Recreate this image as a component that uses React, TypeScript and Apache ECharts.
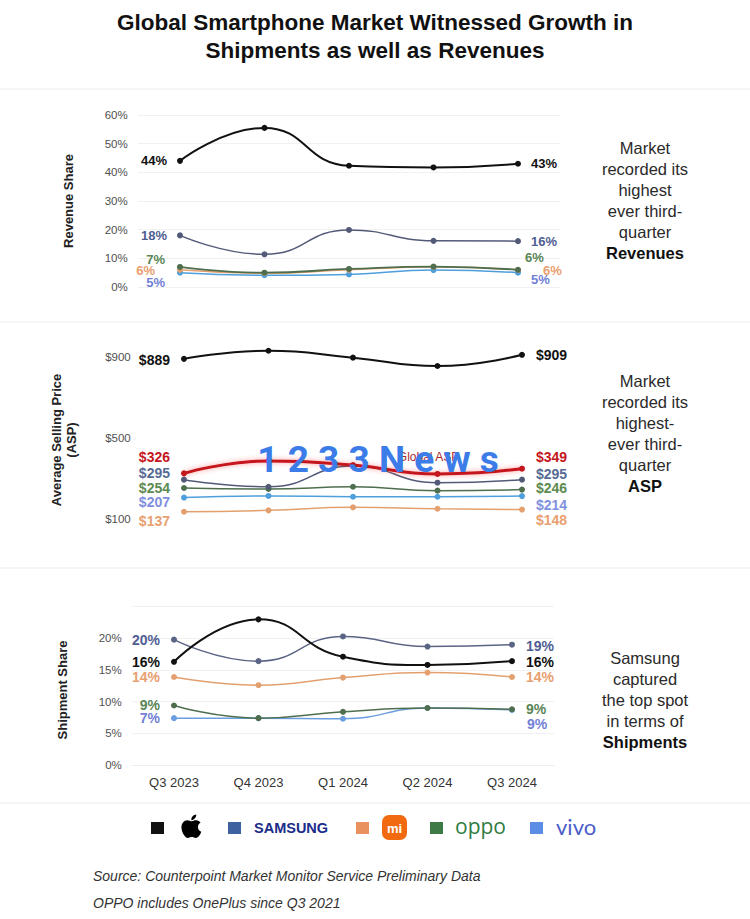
import React, { useEffect, useRef } from 'react';
import * as echarts from 'echarts';

const categories = ['Q3 2023', 'Q4 2023', 'Q1 2024', 'Q2 2024', 'Q3 2024'];

// Revenue share (%)
const revApple = [44, 55.5, 42.3, 41.7, 43];
const revSamsung = [18, 11.4, 19.9, 16.1, 16];
const revXiaomi = [6, 4.8, 6.0, 7.0, 6];
const revOppo = [7, 5.0, 6.3, 7.1, 6];
const revVivo = [5, 4.1, 4.4, 5.9, 5];

// Average selling price (USD)
const aspApple = [889, 929, 895, 854, 909];
const aspGlobal = [326, 387, 367, 323, 349];
const aspSamsung = [295, 260, 362, 280, 295];
const aspOppo = [254, 249, 260, 241, 246];
const aspVivo = [207, 215, 211, 211, 214];
const aspXiaomi = [137, 144, 159, 152, 148];

// Shipment share (%)
const shipApple = [16.3, 23.0, 17.1, 15.8, 16.4];
const shipSamsung = [19.8, 16.4, 20.3, 18.7, 19.0];
const shipXiaomi = [13.9, 12.6, 13.8, 14.6, 13.9];
const shipOppo = [9.4, 7.4, 8.4, 9.0, 8.8];
const shipVivo = [7.4, 7.4, 7.3, 9.0, 8.7];

const revTicks = [0, 10, 20, 30, 40, 50, 60];
const aspTicks = [100, 500, 900];
const shipTicks = [0, 5, 10, 15, 20];

const FONT = '"Liberation Sans", Arial, sans-serif';

const APPLE_PATH =
  'M150.37 130.25c-2.45 5.66-5.35 10.87-8.71 15.66-4.58 6.53-8.33 11.05-11.22 13.56-4.48 4.12-9.28 6.23-14.42 6.35-3.69 0-8.14-1.05-13.32-3.18-5.197-2.12-9.973-3.17-14.34-3.17-4.58 0-9.492 1.05-14.746 3.170-5.262 2.13-9.501 3.24-12.742 3.35-4.929 0.21-9.842-1.96-14.746-6.52-3.13-2.73-7.045-7.41-11.735-14.04-5.032-7.08-9.169-15.29-12.41-24.650-3.471-10.11-5.211-19.9-5.211-29.378 0-10.857 2.346-20.221 7.045-28.068 3.693-6.303 8.606-11.275 14.755-14.925s12.793-5.51 19.948-5.629c3.915 0 9.049 1.211 15.429 3.591 6.362 2.388 10.447 3.599 12.238 3.599 1.339 0 5.877-1.416 13.57-4.239 7.275-2.618 13.415-3.702 18.445-3.275 13.63 1.1 23.87 6.473 30.68 16.153-12.19 7.386-18.22 17.731-18.1 31.002 0.11 10.337 3.86 18.939 11.23 25.769 3.34 3.17 7.070 5.62 11.22 7.36-0.9 2.61-1.85 5.11-2.86 7.51zM119.11 7.24c0 8.102-2.96 15.667-8.86 22.669-7.12 8.324-15.732 13.134-25.071 12.375l-0.188-3.07c0-7.778 3.386-16.102 9.399-22.908 3.002-3.446 6.82-6.311 11.45-8.597 4.62-2.252 8.99-3.497 13.1-3.71 0.12 1.083 0.17 2.166 0.17 3.24z';

type End = { d: number; dy: number };

function mk(
  grid: number,
  name: string,
  values: number[],
  lineColor: string,
  labelColor: string,
  width: number,
  fmt: (v: number) => string,
  left: End,
  right: End,
  fontSize: number,
  z: number,
  extra: any = {},
  midLabel: any = null
) {
  const last = values.length - 1;
  const data = values.map((v, i) => {
    const base: any = { value: v };
    if (i === 0 || i === last) {
      const e = i === 0 ? left : right;
      base.label = {
        show: true,
        position: i === 0 ? 'left' : 'right',
        distance: e.d,
        offset: [0, e.dy],
        formatter: fmt(v),
        color: labelColor,
        fontSize,
        lineHeight: 10,
        fontWeight: 'bold',
        fontFamily: FONT,
      };
    } else if (midLabel && midLabel.index === i) {
      base.label = midLabel.label;
    }
    return base;
  });
  return {
    type: 'line',
    name,
    xAxisIndex: grid,
    yAxisIndex: grid,
    data,
    smooth: 0.5,
    symbol: 'circle',
    symbolSize: 6,
    z,
    lineStyle: { color: lineColor, width },
    itemStyle: { color: lineColor },
    label: { show: false },
    emphasis: { disabled: true },
    ...extra,
  };
}

const pct = (v: number) => Math.round(v) + '%';
const usd = (v: number) => '$' + v;

export default function App() {
  const ref = useRef<HTMLDivElement>(null);
  useEffect(() => {
    document.body.style.margin = '0';
    echarts.graphic.registerShape('appleLogo', echarts.graphic.extendPath(APPLE_PATH, {}) as any);
    const chart = echarts.init(ref.current as HTMLDivElement, null, { renderer: 'svg' });

    const yLabel = { color: '#505050', fontSize: 11.5, fontFamily: FONT, margin: 10 };
    const faint = { show: true, lineStyle: { color: '#f1f1f1', width: 1 } };

    const grids = [
      { left: 137.75, width: 422.5, top: 115, height: 172 },
      { left: 141.75, width: 422.5, top: 336.3, height: 183 },
      { left: 131.75, width: 422.5, top: 606.7, height: 158.3 },
    ];

    const xAxes = [0, 1, 2].map((g) => ({
      type: 'category',
      gridIndex: g,
      data: categories,
      boundaryGap: true,
      show: g === 2,
      axisTick: { show: false },
      axisLine: { show: true, lineStyle: { color: '#eeeeee' } },
      axisLabel: { color: '#333', fontSize: 13, fontFamily: FONT, margin: 11 },
    }));

    const yAxes = [
      {
        type: 'value',
        gridIndex: 0,
        min: 0,
        max: 60,
        interval: 10,
        axisLabel: { ...yLabel, formatter: (v: number) => (revTicks.includes(v) ? v + '%' : '') },
        splitLine: faint,
        axisLine: { show: false },
        axisTick: { show: false },
      },
      {
        type: 'value',
        gridIndex: 1,
        min: 100,
        max: 1000,
        interval: 100,
        axisLabel: { ...yLabel, margin: 11, formatter: (v: number) => (aspTicks.includes(v) ? '$' + v : '') },
        splitLine: { show: false },
        axisLine: { show: false },
        axisTick: { show: false },
      },
      {
        type: 'value',
        gridIndex: 2,
        min: 0,
        max: 25,
        interval: 5,
        axisLabel: { ...yLabel, formatter: (v: number) => (shipTicks.includes(v) ? v + '%' : '') },
        splitLine: faint,
        axisLine: { show: false },
        axisTick: { show: false },
      },
    ];

    const C = {
      apple: '#111111',
      samsungLine: '#525a78',
      samsungLbl: '#4f5d92',
      xiaomiLine: '#e3a06e',
      xiaomiLbl: '#e8a070',
      oppoLine: '#4e6e4e',
      oppoLbl: '#5a8556',
      vivoLine: '#4f9fdc',
      vivoLbl: '#7281d6',
      red: '#c4161c',
    };

    const series: any[] = [
      // Revenue share
      mk(0, 'vivo', revVivo, C.vivoLine, C.vivoLbl, 1.5, pct, { d: 12, dy: 10 }, { d: 10, dy: 7 }, 13, 2),
      mk(0, 'Xiaomi', revXiaomi, C.xiaomiLine, C.xiaomiLbl, 1.5, pct, { d: 22, dy: 1 }, { d: 22, dy: 1 }, 13, 3),
      mk(0, 'OPPO', revOppo, C.oppoLine, C.oppoLbl, 1.8, pct, { d: 12, dy: -7 }, { d: 4, dy: -12 }, 13, 4),
      mk(0, 'Samsung', revSamsung, C.samsungLine, C.samsungLbl, 1.5, pct, { d: 10, dy: 0 }, { d: 10, dy: 0 }, 13, 5),
      mk(0, 'Apple', revApple, C.apple, C.apple, 2, pct, { d: 10, dy: 0 }, { d: 10, dy: 0 }, 13, 6),
      // ASP
      mk(1, 'Xiaomi', aspXiaomi, C.xiaomiLine, C.xiaomiLbl, 1.5, usd, { d: 11, dy: 9 }, { d: 11, dy: 10 }, 14, 2),
      mk(1, 'vivo', aspVivo, C.vivoLine, '#8090e0', 1.5, usd, { d: 11, dy: 4 }, { d: 11, dy: 9 }, 14, 3),
      mk(1, 'OPPO', aspOppo, C.oppoLine, '#5c8a4f', 1.5, usd, { d: 11, dy: 0 }, { d: 11, dy: -2 }, 14, 4),
      mk(1, 'Samsung', aspSamsung, C.samsungLine, '#566a94', 1.5, usd, { d: 11, dy: -7 }, { d: 11, dy: -6 }, 14, 5),
      mk(
        1,
        'Global ASP',
        aspGlobal,
        C.red,
        C.red,
        3,
        usd,
        { d: 11, dy: -16 },
        { d: 11, dy: -12 },
        14,
        6,
        { lineStyle: { color: C.red, width: 3, shadowColor: 'rgba(255,60,60,0.55)', shadowBlur: 5 } },
        {
          index: 3,
          label: {
            show: true,
            position: 'top',
            distance: 5,
            offset: [-9, -3],
            formatter: 'Global ASP',
            color: '#a8262a',
            fontSize: 12,
            fontFamily: FONT,
          },
        }
      ),
      mk(1, 'Apple', aspApple, C.apple, C.apple, 2, usd, { d: 11, dy: 1 }, { d: 11, dy: 0 }, 14, 7),
      // Shipment share
      mk(2, 'vivo', shipVivo, '#6a9ee0', C.vivoLbl, 1.5, pct, { d: 11, dy: 0 }, { d: 12, dy: 14 }, 14, 2),
      mk(2, 'OPPO', shipOppo, C.oppoLine, C.oppoLbl, 1.5, pct, { d: 11, dy: 0 }, { d: 11, dy: 0 }, 14, 3),
      mk(2, 'Xiaomi', shipXiaomi, C.xiaomiLine, C.xiaomiLbl, 1.5, pct, { d: 11, dy: 0 }, { d: 11, dy: 0 }, 14, 4),
      mk(2, 'Samsung', shipSamsung, '#5a6585', C.samsungLbl, 1.5, pct, { d: 11, dy: 0 }, { d: 11, dy: 1 }, 14, 5),
      mk(2, 'Apple', shipApple, C.apple, C.apple, 2, pct, { d: 11, dy: 0 }, { d: 11, dy: 1 }, 14, 6),
    ];

    const sideText = (y: number, text: string) => ({
      type: 'text',
      x: 645,
      y,
      style: {
        text,
        fill: '#2a2a2a',
        fontSize: 16.5,
        fontFamily: FONT,
        align: 'center',
        verticalAlign: 'top',
        lineHeight: 21,
        rich: { b: { fontWeight: 'bold', fontSize: 16.5, fontFamily: FONT, lineHeight: 21, fill: '#111' } },
      },
    });

    const vText = (x: number, y: number, text: string) => ({
      type: 'text',
      x,
      y,
      rotation: Math.PI / 2,
      style: {
        text,
        fill: '#222',
        fontSize: 13,
        fontWeight: 'bold',
        fontFamily: FONT,
        align: 'center',
        verticalAlign: 'middle',
        lineHeight: 15,
      },
    });

    const sep = (y: number) => ({
      type: 'line',
      shape: { x1: 0, y1: y, x2: 750, y2: y },
      style: { stroke: '#ebebeb', lineWidth: 1 },
    });

    const sq = (x: number, color: string) => ({
      type: 'rect',
      shape: { x, y: 822, width: 13, height: 12 },
      style: { fill: color },
    });

    const titleStyle = {
      fill: '#111',
      fontSize: 22.5,
      fontWeight: 'bold',
      fontFamily: FONT,
      align: 'center',
      verticalAlign: 'middle',
    };

    const graphic: any[] = [
      { type: 'text', x: 375, y: 22, style: { ...titleStyle, text: 'Global Smartphone Market Witnessed Growth in' } },
      { type: 'text', x: 375, y: 50, style: { ...titleStyle, text: 'Shipments as well as Revenues' } },
      sep(89),
      sep(322),
      sep(568),
      sep(803),
      vText(68, 201, 'Revenue Share'),
      vText(64, 440, 'Average Selling Price\n(ASP)'),
      vText(62, 690, 'Shipment Share'),
      sideText(137.5, 'Market\nrecorded its\nhighest\never third-\nquarter\n{b|Revenues}'),
      sideText(370.5, 'Market\nrecorded its\nhighest-\never third-\nquarter\n{b|ASP}'),
      sideText(647.5, 'Samsung\ncaptured\nthe top spot\nin terms of\n{b|Shipments}'),
      // legend
      sq(151, '#111111'),
      {
        type: 'appleLogo',
        x: 179,
        y: 814,
        scaleX: 0.145,
        scaleY: 0.145,
        style: { fill: '#000' },
      },
      sq(228, '#3e62a0'),
      {
        type: 'text',
        x: 254,
        y: 828,
        style: {
          text: 'SAMSUNG',
          fill: '#1a2d8a',
          fontSize: 14.5,
          fontWeight: 'bold',
          fontFamily: FONT,
          align: 'left',
          verticalAlign: 'middle',
        },
      },
      sq(356, '#e99260'),
      {
        type: 'rect',
        shape: { x: 382, y: 815, width: 25, height: 25, r: 7 },
        style: { fill: '#f26a10' },
      },
      {
        type: 'text',
        x: 394.5,
        y: 828,
        style: {
          text: 'mi',
          fill: '#fff',
          fontSize: 13,
          fontWeight: 'bold',
          fontFamily: FONT,
          align: 'center',
          verticalAlign: 'middle',
        },
      },
      sq(430, '#3d7a45'),
      {
        type: 'text',
        x: 455,
        y: 826,
        style: {
          text: 'oppo',
          fill: '#2f7d3f',
          fontSize: 21,
          fontFamily: '"Open Sans", sans-serif',
          align: 'left',
          verticalAlign: 'middle',
        },
      },
      sq(530, '#5b8de6'),
      {
        type: 'text',
        x: 556,
        y: 826,
        style: {
          text: 'vivo',
          fill: '#4b5cc8',
          fontSize: 22,
          fontFamily: 'Lato, sans-serif',
          align: 'left',
          verticalAlign: 'middle',
        },
      },
      {
        type: 'text',
        x: 93,
        y: 876,
        style: {
          text: 'Source: Counterpoint Market Monitor Service Preliminary Data',
          fill: '#333',
          fontSize: 14,
          fontStyle: 'italic',
          fontFamily: FONT,
          align: 'left',
          verticalAlign: 'middle',
        },
      },
      {
        type: 'text',
        x: 93,
        y: 903,
        style: {
          text: 'OPPO includes OnePlus since Q3 2021',
          fill: '#333',
          fontSize: 14,
          fontStyle: 'italic',
          fontFamily: FONT,
          align: 'left',
          verticalAlign: 'middle',
        },
      },
      {
        type: 'text',
        x: 378,
        y: 459,
        z: 100,
        style: {
          text: '1 2 3 3 N e w s',
          fill: '#3b7ce8',
          fontSize: 37,
          fontWeight: 'bold',
          fontFamily: 'Roboto, sans-serif',
          align: 'center',
          verticalAlign: 'middle',
        },
      },
    ];

    chart.setOption({
      animation: false,
      backgroundColor: '#ffffff',
      grid: grids,
      xAxis: xAxes,
      yAxis: yAxes,
      series,
      graphic,
    });
    return () => chart.dispose();
  }, []);
  return <div ref={ref} style={{ width: 750, height: 919 }} />;
}
